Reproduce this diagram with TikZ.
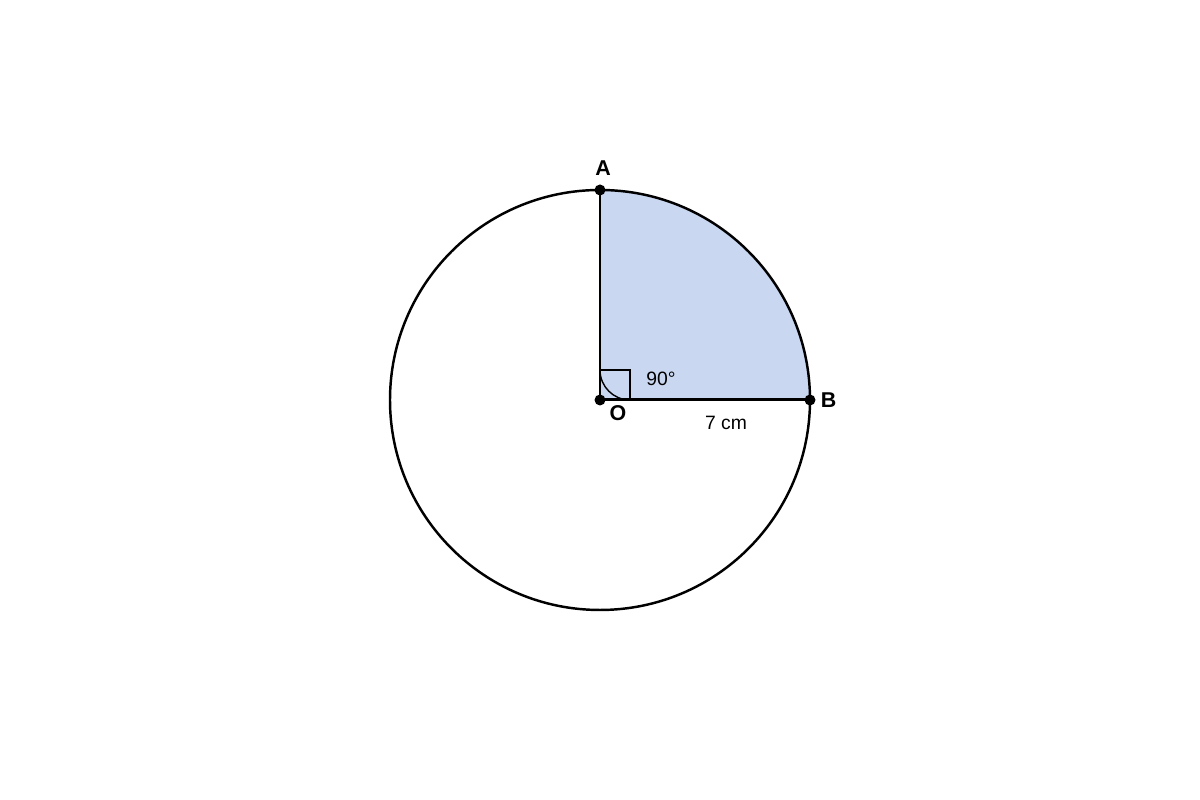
\documentclass[tikz,border=0pt]{standalone}
\usepackage{fontspec}
\setmainfont{Liberation Sans}
\usetikzlibrary{positioning}
\definecolor{sectorblue}{RGB}{201,216,240}

\begin{document}
\begin{tikzpicture}[pt/.style={circle, fill=black, inner sep=0pt, minimum size=0.11cm}, ptlabel/.style={font=\bfseries\fontsize{6.1}{7}\selectfont, inner sep=0pt}, note/.style={font=\fontsize{5.5}{6.5}\selectfont, inner sep=0pt}]

      \useasboundingbox (0,0) rectangle (12,8);

      \fill[sectorblue] (6,4) -- (8.1,4) arc[start angle=0, end angle=90, radius=2.1] -- cycle;
      \draw[line width=0.7pt] (6,4) circle[radius=2.1];

      \node[pt] (O) at (6,4) {};
      \node[pt] (A) at (6,6.1) {};
      \node[pt] (B) at (8.1,4) {};

      \draw[line width=0.85pt] (A.center) -- (O.center) -- (B.center);

      % right angle mark
      \draw[line width=0.4pt] (6,4.3) -- (6.3,4.3) -- (6.3,4);
      \draw[line width=0.4pt] (6,4.3) arc[start angle=180, end angle=270, radius=0.3];

      \node[ptlabel, above=0.08cm of A, xshift=0.03cm] (labA) {A};
      \node[ptlabel, right=0.04cm of B] (labB) {B};
      \node[ptlabel] (labO) at (6.18,3.87) {O};
      \node[note] (angle) at (6.61,4.21) {90°};
      \node[note] (radius) at (7.26,3.77) {7 cm};

\end{tikzpicture}
\end{document}
